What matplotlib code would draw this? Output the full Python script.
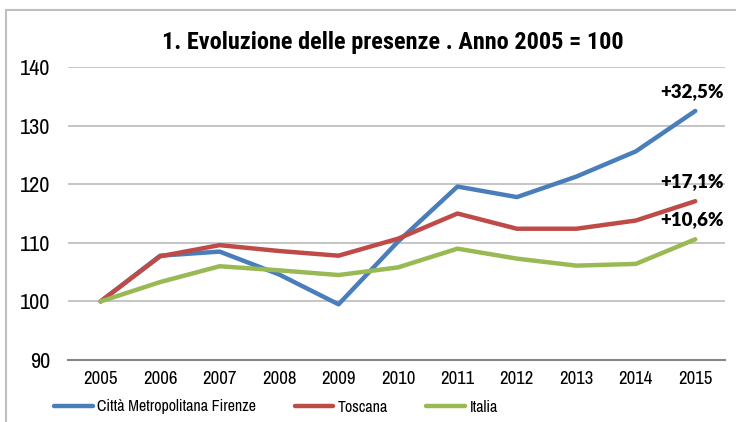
import matplotlib
matplotlib.use("Agg")
import matplotlib.pyplot as plt
from matplotlib.patches import Rectangle
from matplotlib import font_manager

years = [2005, 2006, 2007, 2008, 2009, 2010, 2011, 2012, 2013, 2014, 2015]
firenze = [100, 107.8, 108.5, 104.6, 99.5, 110.2, 119.6, 117.8, 121.3, 125.6, 132.5]
toscana = [100, 107.7, 109.6, 108.6, 107.8, 110.7, 115.0, 112.4, 112.4, 113.8, 117.1]
italia = [100, 103.3, 106.0, 105.3, 104.5, 105.8, 109.0, 107.3, 106.1, 106.4, 110.6]
labels = ["Città Metropolitana Firenze", "Toscana", "Italia"]
end_labels = ["+32,5%", "+17,1%", "+10,6%"]
colors = ["#4a7ebb", "#be4b48", "#98b954"]

fonts = {(f.name, f.weight) for f in font_manager.fontManager.ttflist}
names = {n for n, w in fonts}
narrow = "Archivo Narrow" if "Archivo Narrow" in names else "Liberation Sans"
bold_narrow = narrow if (narrow, 700) in fonts else ("Roboto Condensed" if "Roboto Condensed" in names else narrow)
bold_lbl = "Lato" if "Lato" in names else "Liberation Sans"

W, H = 736, 422
fig = plt.figure(figsize=(W / 100, H / 100), dpi=100)
ax = fig.add_axes([68 / W, 1 - 360 / H, (725 - 68) / W, (360 - 67) / H])

# outer chart frame
fig.patches.append(Rectangle((6 / W, -0.1), 1.1, 1 - 10 / H + 0.1, transform=fig.transFigure,
                             fill=False, edgecolor="#bfbfbf", lw=1.5))

for vals, c, lab in zip([firenze, toscana, italia], colors, labels):
    ax.plot(years, vals, color=c, lw=3.2, label=lab, solid_capstyle="round", solid_joinstyle="round")

for vals, t in zip([firenze, toscana, italia], end_labels):
    ax.annotate(t, (years[-1], vals[-1]), xytext=(-2, 8), textcoords="offset points",
                ha="center", va="bottom", fontsize=13.5, fontweight="heavy", family=bold_lbl)

ax.set_xlim(2004.45, 2015.5)
ax.set_ylim(90, 140)
ax.set_yticks(range(90, 141, 10))
ax.set_xticks(years)
ax.grid(axis="y", color="#c0c0c0", lw=1.3)
ax.set_axisbelow(True)
for s in ["top", "right", "left"]:
    ax.spines[s].set_visible(False)
ax.spines["bottom"].set_color("#868686")
ax.spines["bottom"].set_linewidth(1.5)
ax.tick_params(axis="x", length=0, labelsize=13.5, pad=8)
ax.tick_params(axis="y", length=0, labelsize=16, pad=13)
for lbl in ax.get_xticklabels() + ax.get_yticklabels():
    lbl.set_family(narrow)

fig.text(393 / W, 1 - 42 / H, "1. Evoluzione delle presenze . Anno 2005 = 100", ha="center", va="center",
         fontsize=17.5, fontweight="bold", family=bold_narrow)

leg = fig.legend(loc="center", bbox_to_anchor=(276 / W, 1 - 407 / H), ncol=3, frameon=False,
                 prop={"family": narrow, "size": 11.5}, handlelength=2.4, columnspacing=2.4, handletextpad=0.3)
for h in leg.get_lines():
    h.set_linewidth(3.2)

fig.savefig("out.png", dpi=100)
